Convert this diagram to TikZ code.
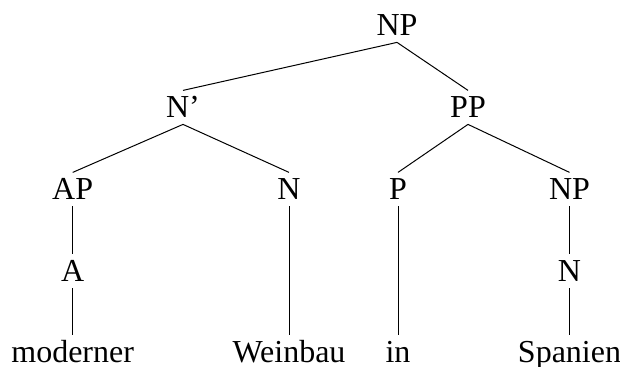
\documentclass[tikz,border=0pt]{standalone}
\usepackage{fontspec}
\setmainfont{Liberation Serif}
\begin{document}
\begin{tikzpicture}[x=0.5pt, y=-0.5pt, font=\fontsize{16}{19}\selectfont,
    c/.style={anchor=base, inner xsep=0pt, inner ysep=3pt, text height=10.6pt, text depth=0pt},
    e/.style={line width=0.5pt}]
  \useasboundingbox (0,0) rectangle (620,367);

  % ---- phrases
  \node[c] (np) at (397,36) {NP};
  \node[c] (nbar) at (183,118) {N'};
  \node[c] (pp) at (468,118) {PP};
  \foreach \n/\x/\lab in {ap/72.7/AP, n/289/N, p/398/P, npb/569.5/NP}
    \node[c] (\n) at (\x,200) {\lab};
  \node[c] (a) at (72.7,282) {A};
  \node[c] (nb) at (569.5,282) {N};

  % ---- words
  \foreach \n/\x/\lab in {w1/72.7/moderner, w2/289/Weinbau, w3/398/in, w4/569.5/Spanien}
    \node[c] (\n) at (\x,363) {\lab};

  % ---- branches
  \foreach \s/\t in {np/nbar, np/pp, nbar/ap, nbar/n, pp/p, pp/npb, ap/a, a/w1, n/w2, p/w3, npb/nb, nb/w4}
    \draw[e] (\s.south) -- (\t.north);
\end{tikzpicture}
\end{document}
